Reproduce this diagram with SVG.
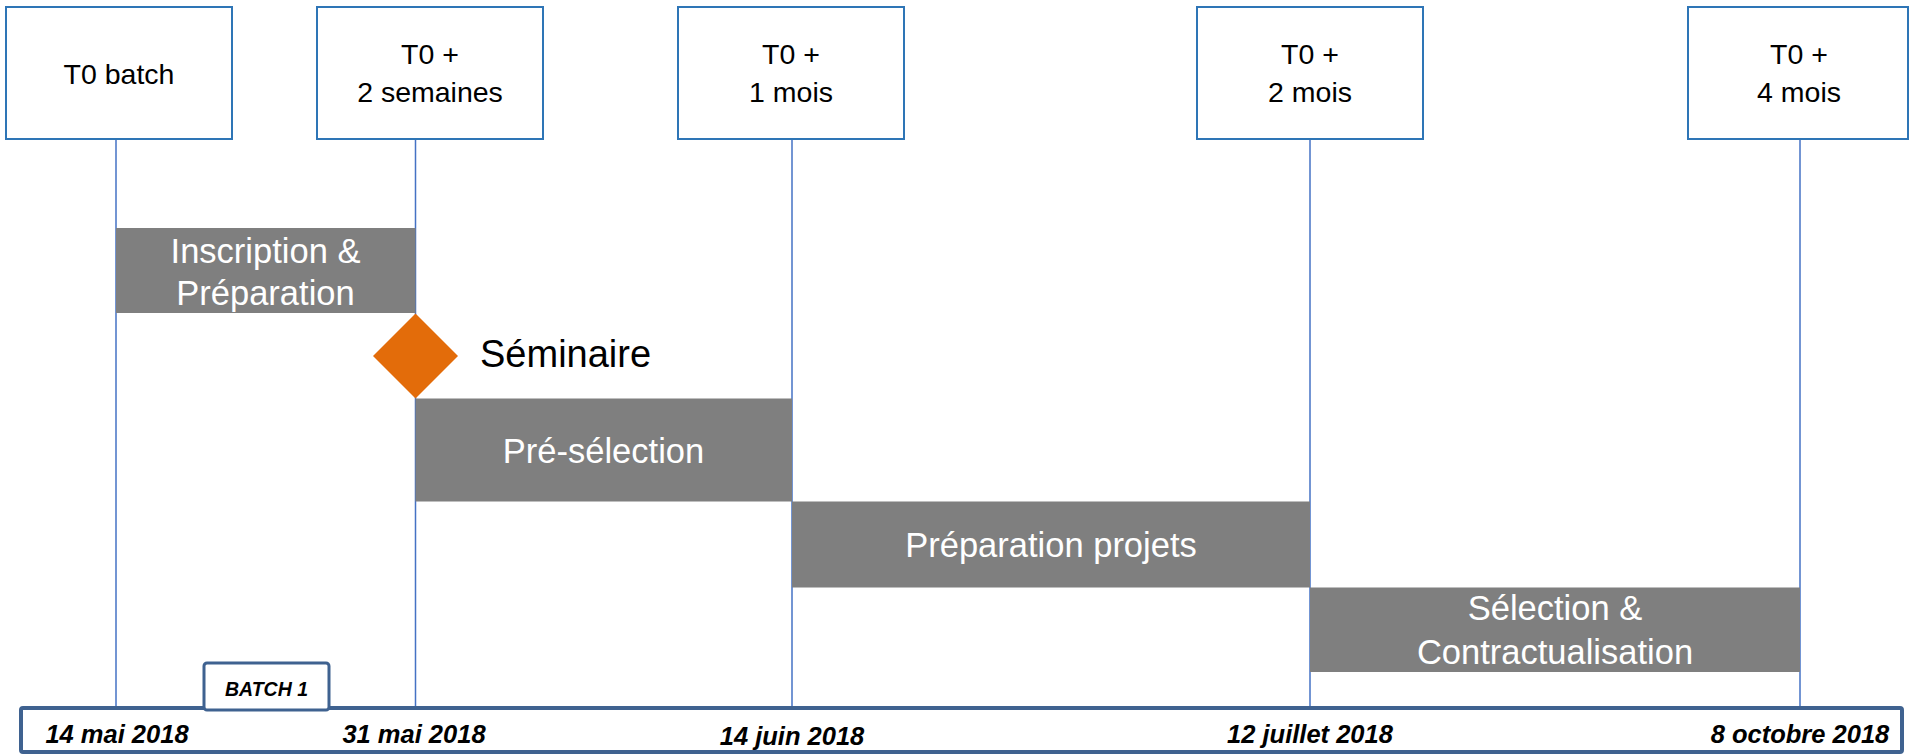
<svg xmlns="http://www.w3.org/2000/svg" width="1911" height="754" viewBox="0 0 1911 754">
<style>
.box{fill:#fff;stroke:#2E75B6;stroke-width:2}
.bt{font-family:"Liberation Sans",Arial,sans-serif;font-size:28.5px;fill:#000;text-anchor:middle}
.bar{fill:#7F7F7F}
.bart{font-family:"Liberation Sans",Arial,sans-serif;font-size:34.5px;fill:#fff;text-anchor:middle}
.vl{stroke:#4472C4;stroke-width:1.5;fill:none}
.dt{font-family:"Liberation Sans",Arial,sans-serif;font-size:25.5px;font-weight:bold;font-style:italic;fill:#000;text-anchor:middle}
.tl{fill:#fff;stroke:#3F6290;stroke-width:4}
</style>
<g id="connectors">
<line class="vl" x1="116" y1="139" x2="116" y2="708"/>
<line class="vl" x1="415.5" y1="139" x2="415.5" y2="708"/>
<line class="vl" x1="792" y1="139" x2="792" y2="708"/>
<line class="vl" x1="1310" y1="139" x2="1310" y2="708"/>
<line class="vl" x1="1800" y1="139" x2="1800" y2="708"/>
</g>
<g id="box-t0">
<rect class="box" x="6" y="7" width="226" height="132"/>
<text class="bt" x="119" y="84">T0 batch</text>
</g>
<g id="box-2sem">
<rect class="box" x="317" y="7" width="226" height="132"/>
<text class="bt" x="430" y="64">T0 +</text>
<text class="bt" x="430" y="102">2 semaines</text>
</g>
<g id="box-1mois">
<rect class="box" x="678" y="7" width="226" height="132"/>
<text class="bt" x="791" y="64">T0 +</text>
<text class="bt" x="791" y="102">1 mois</text>
</g>
<g id="box-2mois">
<rect class="box" x="1197" y="7" width="226" height="132"/>
<text class="bt" x="1310" y="64">T0 +</text>
<text class="bt" x="1310" y="102">2 mois</text>
</g>
<g id="box-4mois">
<rect class="box" x="1688" y="7" width="220" height="132"/>
<text class="bt" x="1799" y="64">T0 +</text>
<text class="bt" x="1799" y="102">4 mois</text>
</g>
<g id="bar-inscription">
<rect class="bar" x="116" y="228" width="299.5" height="85"/>
<text class="bart" x="265.5" y="263">Inscription &amp;</text>
<text class="bart" x="265.5" y="305">Préparation</text>
</g>
<g id="seminaire">
<polygon points="415.5,313.5 458,356 415.5,398.5 373,356" fill="#E36C0A"/>
<text x="480" y="367" font-family="Liberation Sans, Arial, sans-serif" font-size="38" fill="#000">Séminaire</text>
</g>
<g id="bar-preselection">
<rect class="bar" x="415.5" y="398.5" width="376.5" height="103"/>
<text class="bart" x="603.5" y="462.5">Pré-sélection</text>
</g>
<g id="bar-preparation">
<rect class="bar" x="792" y="501.5" width="518" height="86"/>
<text class="bart" x="1051" y="557">Préparation projets</text>
</g>
<g id="bar-selection">
<rect class="bar" x="1310" y="587.5" width="490" height="84.5"/>
<text class="bart" x="1555" y="620">Sélection &amp;</text>
<text class="bart" x="1555" y="664">Contractualisation</text>
</g>
<g id="timeline">
<rect class="tl" x="21" y="708" width="1881" height="44" rx="2"/>
<text class="dt" x="117" y="743">14 mai 2018</text>
<text class="dt" x="414" y="743">31 mai 2018</text>
<text class="dt" x="792" y="745">14 juin 2018</text>
<text class="dt" x="1310" y="743">12 juillet 2018</text>
<text class="dt" x="1800" y="743">8 octobre 2018</text>
</g>
<g id="batch1">
<rect x="204" y="663" width="125" height="47" rx="3" fill="#fff" stroke="#3F6290" stroke-width="3"/>
<text x="266.5" y="696" font-family="Liberation Sans, Arial, sans-serif" font-size="19.5" font-weight="bold" font-style="italic" text-anchor="middle" fill="#000">BATCH 1</text>
</g>
</svg>
